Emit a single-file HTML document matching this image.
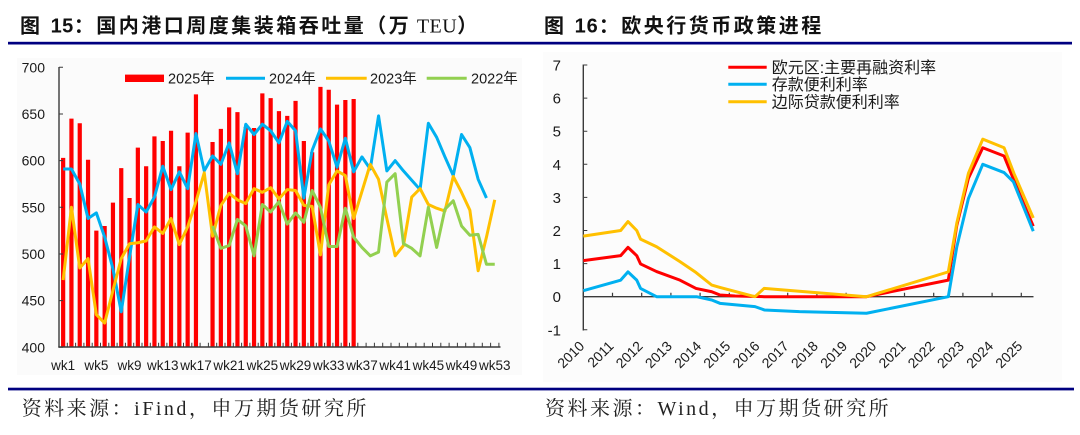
<!DOCTYPE html>
<html>
<head>
<meta charset="utf-8">
<style>
html,body{margin:0;padding:0;background:#fff;}
body{width:1080px;height:435px;overflow:hidden;}
svg{display:block;}
.t{font-family:"Liberation Sans","Noto Sans CJK SC",sans-serif;fill:#1a1a1a;}
.ttl{font-family:"Liberation Sans","Noto Sans CJK SC",sans-serif;font-size:20px;font-weight:bold;letter-spacing:2.5px;fill:#111;}
.src{font-family:"Liberation Serif","Noto Serif CJK SC",serif;font-size:20px;letter-spacing:2.5px;fill:#222;}
</style>
</head>
<body>
<svg width="1080" height="435" viewBox="0 0 1080 435" xmlns="http://www.w3.org/2000/svg">
  <!-- Titles -->
  <text class="ttl" x="20" y="32.5">图 <tspan letter-spacing="0.5">15</tspan>：国内港口周度集装箱吞吐量（万<tspan letter-spacing="0.5" font-family="Liberation Serif, serif" font-weight="normal"> TEU</tspan>）</text>
  <text class="ttl" x="544" y="32.5">图 <tspan letter-spacing="1">16</tspan>：欧央行货币政策进程</text>
  <rect x="8" y="41.8" width="1064" height="2.7" fill="#000080"/>

  <!-- chart backgrounds -->
  <rect x="17" y="58" width="505" height="317" fill="#fbfbfb"/>
  <rect x="543" y="52" width="519" height="330" fill="#fcfcfc"/>

  <!-- ============ LEFT CHART ============ -->
  <g class="t" font-size="14" text-anchor="end">
    <text x="45" y="72.3">700</text>
    <text x="45" y="119">650</text>
    <text x="45" y="165.6">600</text>
    <text x="45" y="212.3">550</text>
    <text x="45" y="259">500</text>
    <text x="45" y="305.7">450</text>
    <text x="45" y="352.3">400</text>
  </g>
  <g class="t" font-size="13.5" text-anchor="middle">
    <text x="63.15" y="370">wk1</text>
    <text x="96.35" y="370">wk5</text>
    <text x="129.55" y="370">wk9</text>
    <text x="162.75" y="370">wk13</text>
    <text x="195.95" y="370">wk17</text>
    <text x="229.15" y="370">wk21</text>
    <text x="262.35" y="370">wk25</text>
    <text x="295.55" y="370">wk29</text>
    <text x="328.75" y="370">wk33</text>
    <text x="361.95" y="370">wk37</text>
    <text x="395.15" y="370">wk41</text>
    <text x="428.35" y="370">wk45</text>
    <text x="461.55" y="370">wk49</text>
    <text x="494.75" y="370">wk53</text>
  </g>

  <g transform="matrix(8.3 0 0 -0.93333 54.85 720.63)" fill="none">
    <path vector-effect="non-scaling-stroke" stroke="#ff0000" stroke-width="4.2" stroke-linecap="butt"
      d="M1,400V603 M2,400V645 M3,400V640 M4,400V601 M5,400V525 M6,400V530 M7,400V555 M8,400V592 M9,400V560 M10,400V614 M11,400V594 M12,400V626 M13,400V621 M14,400V632 M15,400V594 M16,400V630 M17,400V671 M19,400V620 M20,400V634 M21,400V657 M22,400V652 M23,400V636 M24,400V635 M25,400V672 M26,400V667 M27,400V653 M28,400V648 M29,400V664 M30,400V621 M31,400V609 M32,400V679 M33,400V676 M34,400V660 M35,400V665 M36,400V666"/>
    <polyline vector-effect="non-scaling-stroke" stroke="#00b0f0" stroke-width="3" stroke-linejoin="round"
      points="1,591 2,591 3,575 4,538 5,544 6,518 7,484 8,438 9,497 10,553 11,545 12,561 13,594 14,569 15,588 16,570 17,629 18,589 19,605 20,596 21,619 22,586 23,639 24,628 25,639 26,632 27,619 28,642 29,632 30,560 31,611 32,634 33,621 34,593 35,624 36,588 37,604 38,591 39,648 40,589 41,600 42,589 43,579 44,569 45,640 46,625 47,604 48,584 49,628 50,614 51,580 52,560"/>
    <polyline vector-effect="non-scaling-stroke" stroke="#ffc000" stroke-width="3" stroke-linejoin="round"
      points="1,472 2,550 3,485 4,495 5,435 6,426 7,461 8,495 9,511 10,512 11,514 12,529 13,522 14,538 15,510 16,529 17,556 18,587 19,519 20,552 21,565 22,558 23,554 24,570 25,566 26,571 27,559 28,569 29,568 30,552 31,551 32,499 33,574 34,589 35,584 36,538 37,567 38,596 39,580 40,538 41,498 42,509 43,561 44,570 45,553 46,549 47,546 48,583 49,566 50,547 51,482 52,518 53,558"/>
    <polyline vector-effect="non-scaling-stroke" stroke="#92d050" stroke-width="3" stroke-linejoin="round"
      points="19,530 20,506 21,509 22,537 23,530 24,498 25,553 26,545 27,556 28,532 29,544 30,534 31,568 32,550 33,508 34,508 35,549 36,518 37,507 38,498 39,502 40,577 41,586 42,511 43,506 44,498 45,550 46,507 47,548 48,557 49,530 50,520 51,521 52,489 53,489"/>
  </g>

  <line x1="59" y1="67" x2="59" y2="347.5" stroke="#3a3a3a" stroke-width="1.4"/>
  <line x1="58.3" y1="347" x2="500.5" y2="347" stroke="#3a3a3a" stroke-width="1.4"/>
  <line x1="58.5" y1="344.7" x2="500.5" y2="344.7" stroke="#3a3a3a" stroke-width="4" stroke-dasharray="1 7.3"/>
  <line x1="61" y1="66.8" x2="61" y2="348" stroke="#3a3a3a" stroke-width="4" stroke-dasharray="1 45.667"/>

  <rect x="125" y="74.6" width="39" height="7.4" fill="#ff0000"/>
  <line x1="226" y1="78.3" x2="265" y2="78.3" stroke="#00b0f0" stroke-width="3"/>
  <line x1="326" y1="78.3" x2="366.7" y2="78.3" stroke="#ffc000" stroke-width="3"/>
  <line x1="426.7" y1="78.3" x2="466.7" y2="78.3" stroke="#92d050" stroke-width="3"/>
  <g class="t" font-size="14.5">
    <text x="168" y="83.5">2025年</text>
    <text x="269" y="83.5">2024年</text>
    <text x="370" y="83.5">2023年</text>
    <text x="471" y="83.5">2022年</text>
  </g>

  <!-- ============ RIGHT CHART ============ -->
  <g class="t" font-size="15" text-anchor="end">
    <text x="561" y="70.5">7</text>
    <text x="561" y="103.6">6</text>
    <text x="561" y="136.7">5</text>
    <text x="561" y="169.8">4</text>
    <text x="561" y="202.9">3</text>
    <text x="561" y="236">2</text>
    <text x="561" y="269.1">1</text>
    <text x="561" y="302.2">0</text>
    <text x="561" y="335.3">-1</text>
  </g>
  <g class="t" font-size="14" text-anchor="end">
    <text transform="translate(585.3 347) rotate(-45)">2010</text>
    <text transform="translate(614.5 347) rotate(-45)">2011</text>
    <text transform="translate(643.7 347) rotate(-45)">2012</text>
    <text transform="translate(672.9 347) rotate(-45)">2013</text>
    <text transform="translate(702.1 347) rotate(-45)">2014</text>
    <text transform="translate(731.3 347) rotate(-45)">2015</text>
    <text transform="translate(760.5 347) rotate(-45)">2016</text>
    <text transform="translate(789.7 347) rotate(-45)">2017</text>
    <text transform="translate(818.9 347) rotate(-45)">2018</text>
    <text transform="translate(848.1 347) rotate(-45)">2019</text>
    <text transform="translate(877.3 347) rotate(-45)">2020</text>
    <text transform="translate(906.5 347) rotate(-45)">2021</text>
    <text transform="translate(935.7 347) rotate(-45)">2022</text>
    <text transform="translate(964.9 347) rotate(-45)">2023</text>
    <text transform="translate(994.1 347) rotate(-45)">2024</text>
    <text transform="translate(1023.3 347) rotate(-45)">2025</text>
  </g>

  <line x1="583.3" y1="64.5" x2="583.3" y2="330.5" stroke="#3a3a3a" stroke-width="1.4"/>
  <line x1="583.3" y1="296.7" x2="1033.5" y2="296.7" stroke="#3a3a3a" stroke-width="1.4"/>
  <line x1="582.7" y1="294.7" x2="1034" y2="294.7" stroke="#3a3a3a" stroke-width="4" stroke-dasharray="1.2 28"/>
  <line x1="585.3" y1="64.5" x2="585.3" y2="331" stroke="#3a3a3a" stroke-width="4" stroke-dasharray="1 32.1"/>

  <g transform="matrix(29.2 0 0 -33.1 583.3 296.7)" fill="none">
    <polyline vector-effect="non-scaling-stroke" stroke="#ff0000" stroke-width="3" stroke-linejoin="round"
      points="0,1.09 1.28,1.24 1.53,1.49 1.83,1.24 1.96,0.99 2.51,0.76 3.31,0.5 3.86,0.25 4.4,0.15 4.68,0.05 5.2,0.02 6.2,0 9.7,0 12.5,0.5 12.79,2.15 13.19,3.58 13.68,4.5 14.41,4.25 14.95,3.08 15.41,2.13"/>
    <polyline vector-effect="non-scaling-stroke" stroke="#00b0f0" stroke-width="3" stroke-linejoin="round"
      points="0,0.18 1.28,0.5 1.53,0.75 1.83,0.5 1.96,0.25 2.51,0 3.88,0 4.4,-0.1 4.68,-0.2 5.88,-0.3 6.2,-0.4 7.4,-0.45 9.7,-0.5 12.5,0 12.79,1.5 13.19,2.97 13.68,4.0 14.41,3.75 14.73,3.47 15.41,1.98"/>
    <polyline vector-effect="non-scaling-stroke" stroke="#ffc000" stroke-width="3" stroke-linejoin="round"
      points="0,1.83 1.28,2.0 1.53,2.27 1.83,2.0 1.96,1.74 2.51,1.51 3.31,1.06 3.86,0.73 4.4,0.35 4.68,0.28 5.88,0 6.19,0.25 9.7,0 12.5,0.75 12.79,2.22 13.19,3.73 13.68,4.76 14.41,4.5 14.75,3.72 15.41,2.38"/>
  </g>

  <line x1="728.3" y1="67.3" x2="766.7" y2="67.3" stroke="#ff0000" stroke-width="3"/>
  <line x1="728.3" y1="84.3" x2="766.7" y2="84.3" stroke="#00b0f0" stroke-width="3"/>
  <line x1="728.3" y1="101.7" x2="766.7" y2="101.7" stroke="#ffc000" stroke-width="3"/>
  <g class="t" font-size="16">
    <text x="771.7" y="73">欧元区:主要再融资利率</text>
    <text x="771.7" y="90">存款便利利率</text>
    <text x="771.7" y="107.4">边际贷款便利利率</text>
  </g>

  <rect x="8" y="387.7" width="1066" height="2.7" fill="#000080"/>
  <text class="src" x="21.7" y="415">资料来源：iFind，申万期货研究所</text>
  <text class="src" x="545" y="415">资料来源：Wind，申万期货研究所</text>
</svg>
</body>
</html>
